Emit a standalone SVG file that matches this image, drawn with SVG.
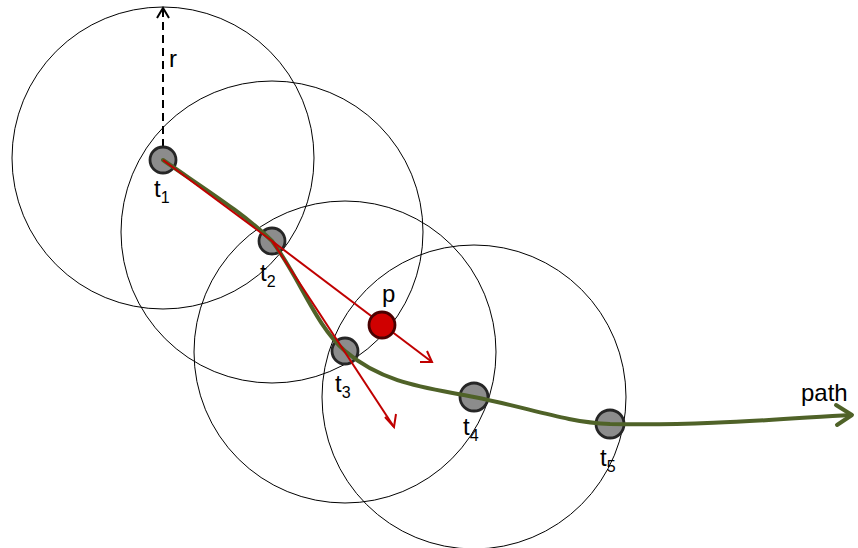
<svg xmlns="http://www.w3.org/2000/svg" width="858" height="548" viewBox="0 0 858 548">
<style>
.range{fill:none;stroke:#000;stroke-width:1}
.node{fill:#8c8c8c;stroke:#262626;stroke-width:2.8}
.pnode{fill:#d00000;stroke:#4a0000;stroke-width:2.8}
.lbl{font-family:"Liberation Sans",Arial,sans-serif;font-size:24px;fill:#000}
.sub{font-size:16px}
.red{fill:none;stroke:#c00000;stroke-width:2}
.green{fill:none;stroke:#4f6228;stroke-width:4;stroke-linecap:round}
</style>
<rect width="858" height="548" fill="#fff"/>
<g id="ranges">
<circle class="range" cx="163" cy="158" r="151"/>
<circle class="range" cx="272" cy="232" r="151"/>
<circle class="range" cx="345" cy="352" r="151"/>
<circle class="range" cx="474" cy="397" r="152"/>
</g>
<g id="radius">
<line x1="163" y1="147" x2="163" y2="10" stroke="#000" stroke-width="2" stroke-dasharray="8,5"/>
<polyline points="157,18 163,8 169,18" fill="none" stroke="#000" stroke-width="2"/>
<text class="lbl" x="169" y="67">r</text>
</g>
<g id="t1"><circle class="node" cx="163" cy="160" r="13"/><text class="lbl" x="154" y="197">t<tspan class="sub" dy="6">1</tspan></text></g>
<g id="t2"><circle class="node" cx="272" cy="241" r="13"/><text class="lbl" x="260" y="281">t<tspan class="sub" dy="6">2</tspan></text></g>
<g id="t3"><circle class="node" cx="345" cy="351" r="13"/><text class="lbl" x="335" y="392">t<tspan class="sub" dy="6">3</tspan></text></g>
<g id="t4"><circle class="node" cx="474" cy="397" r="14"/><text class="lbl" x="463" y="435">t<tspan class="sub" dy="6">4</tspan></text></g>
<g id="t5"><circle class="node" cx="610" cy="424" r="14"/><text class="lbl" x="600" y="466">t<tspan class="sub" dy="6">5</tspan></text></g>
<g id="connectors">
<path class="green" d="M163,160 C200,186 245,214 272,241 C300,278 315,325 345,351 C385,385 430,388 474,397 C530,408 565,422 610,424 C700,426 780,419 850,415"/>
<polyline points="836,405 852,415 837,425" fill="none" stroke="#4f6228" stroke-width="4" stroke-linecap="round" stroke-linejoin="round"/>
<line class="red" x1="163" y1="160" x2="272" y2="241"/>
<line class="red" x1="272" y1="241" x2="432" y2="362"/>
<polyline class="red" points="420,362 432,362 427,351"/>
<line class="red" x1="272" y1="241" x2="394" y2="427"/>
<polyline class="red" points="385,417 394,427 396,414"/>
</g>
<g id="p"><circle class="pnode" cx="382" cy="325" r="13"/><text class="lbl" x="382" y="302">p</text></g>
<g id="path-label"><text class="lbl" x="801" y="401" font-size="26">path</text></g>
</svg>
